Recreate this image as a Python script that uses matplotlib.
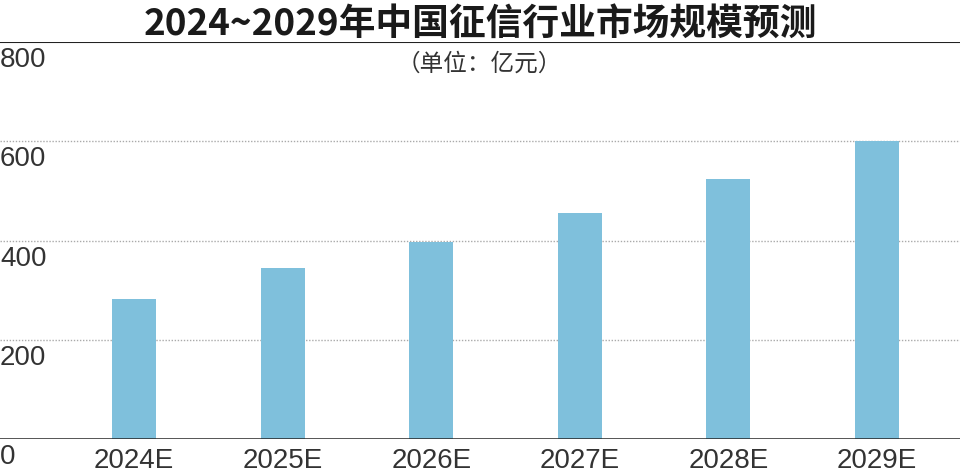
import matplotlib
matplotlib.use("Agg")
import matplotlib.pyplot as plt

years = ["2024E", "2025E", "2026E", "2027E", "2028E", "2029E"]
market_size = [283, 345, 396, 455, 523, 600]
y_ticks = [0, 200, 400, 600, 800]

title = "2024~2029年中国征信行业市场规模预测"
subtitle = "（单位：亿元）"

plt.rcParams['font.family'] = ['Liberation Sans Narrow', 'Liberation Sans', 'Noto Sans CJK SC', 'DejaVu Sans']

fig = plt.figure(figsize=(9.6, 4.71), dpi=100)
ax = fig.add_axes([0, 32 / 471, 1, (439 - 42) / 471])

x = list(range(len(years)))
ax.bar(x, market_size, width=0.296, color="#7fc0dc", zorder=3)

ax.set_xlim(-0.902, 5.559)
ax.set_ylim(0, 800)

# dotted grid lines, solid baseline and top line
for v in y_ticks[1:-1]:
    ax.axhline(v, color="#aaaaaa", lw=1, ls=(0, (1, 1.2)), zorder=1)
ax.axhline(0, color="#222222", lw=1.8, zorder=4)
ax.axhline(800, color="#222222", lw=1.5, zorder=4)

for s in ax.spines.values():
    s.set_visible(False)
ax.set_xticks([])
ax.set_yticks([])

# y labels sit just under their lines at the left edge
for v in y_ticks:
    ax.annotate(str(v), xy=(0, v), xycoords=("axes fraction", "data"),
                xytext=(0, -5), textcoords="offset pixels",
                ha="left", va="top", fontsize=20, color="#333333")

for i, lab in enumerate(years):
    ax.annotate(lab, xy=(i, 0), xycoords="data",
                xytext=(0, -9), textcoords="offset pixels",
                ha="center", va="top", fontsize=20, color="#333333",
                annotation_clip=False)

fig.text(0.5, 1 - 24 / 471, title, ha="center", va="center",
         fontsize=26.5, fontweight="bold", color="#1a1a1a",
         family=["Noto Sans CJK SC", "DejaVu Sans"])
fig.text(0.499, 1 - 64 / 471, subtitle, ha="center", va="center",
         fontsize=17, color="#333333",
         family=["Noto Sans CJK SC", "DejaVu Sans"])

fig.savefig("out.png", dpi=100)
plt.close(fig)
